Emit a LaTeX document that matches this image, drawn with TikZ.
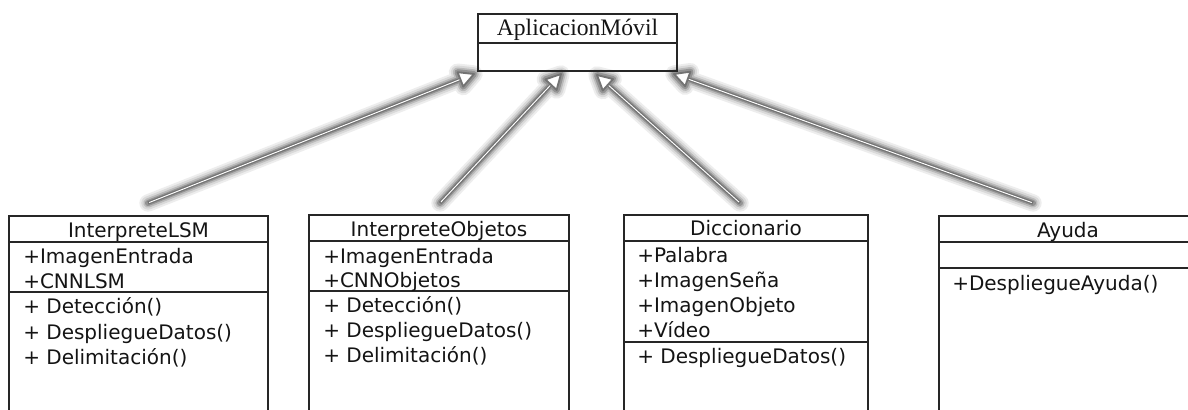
\documentclass[tikz,border=0pt]{standalone}
\usepackage{fontspec}
\newfontfamily\umlsans{DejaVu Sans}
\newfontfamily\umlserif{Liberation Serif}
\usetikzlibrary{arrows.meta,calc}
\newcommand\inherit[2]{%
  \coordinate (tb) at ($(#2)!11pt!(#1)$);
  \coordinate (tl) at ($(tb)!5.8pt!90:(#2)$);
  \coordinate (tr) at ($(tb)!5.8pt!-90:(#2)$);
  \draw[line width=13pt, black!7, line cap=round, line join=round] (#1) -- (tb) (#2) -- (tl) -- (tr) -- cycle;
  \draw[line width=10pt, black!15, line cap=round, line join=round] (#1) -- (tb) (#2) -- (tl) -- (tr) -- cycle;
  \draw[line width=7pt, black!27, line cap=round, line join=round] (#1) -- (tb) (#2) -- (tl) -- (tr) -- cycle;
  \draw[line width=4.5pt, black!42, line cap=round, line join=round] (#1) -- (tb) (#2) -- (tl) -- (tr) -- cycle;
  \draw[line width=2.6pt, black!55] (#1) -- (tb);
  \draw[line width=0.7pt, white, shorten <=1pt] (#1) -- (tb);
  \draw[line width=1.4pt, black!55, fill=white, line join=round]
    (#2) -- (tl) -- (tr) -- cycle;
}
\begin{document}
\begin{tikzpicture}[x=0.75pt,y=-0.75pt,
  boxline/.style={draw=black!85, line width=1.1pt},
  hdr/.style={font=\umlsans\fontsize{15}{17}\selectfont, text=black!92, anchor=base, inner sep=0pt},
  item/.style={font=\umlsans\fontsize{15}{17}\selectfont, text=black!92, anchor=base west, inner sep=0pt},
  ttl/.style={font=\umlserif\fontsize{17.7}{20}\selectfont, text=black!92, anchor=base, inner sep=0pt}]
\useasboundingbox (0,0) rectangle (1188,410);
\clip (0,0) rectangle (1188,410);
\fill[white] (0,0) rectangle (1188,410);

% connector end points
\coordinate (s1) at (148,203);
\coordinate (t1) at (474,74);
\coordinate (s2) at (440,203);
\coordinate (t2) at (561,74);
\coordinate (s3) at (740,203);
\coordinate (t3) at (597,75);
\coordinate (s4) at (1033,203);
\coordinate (t4) at (674,74);

\inherit{s1}{t1}
\inherit{s2}{t2}
\inherit{s3}{t3}
\inherit{s4}{t4}

% AplicacionMovil
\draw[boxline] (478,14) rectangle (677,71);
\draw[boxline] (478,43) -- (677,43);
\node[ttl] (app) at (577.5,36) {AplicacionMóvil};

% InterpreteLSM
\draw[boxline] (9,412) -- (9,216) -- (268,216) -- (268,412);
\draw[boxline] (9,242) -- (268,242);
\draw[boxline] (9,292) -- (268,292);
\node[hdr] (lsm) at (138.5,237) {InterpreteLSM};
\node[item] (lsma1) at (23,263) {+ImagenEntrada};
\node[item] (lsma2) at (23,288) {+CNNLSM};
\node[item] (lsmm1) at (23,313) {+ Detección()};
\node[item] (lsmm2) at (23,339) {+ DespliegueDatos()};
\node[item] (lsmm3) at (23,364) {+ Delimitación()};

% InterpreteObjetos
\draw[boxline] (309,412) -- (309,215) -- (569,215) -- (569,412);
\draw[boxline] (309,241) -- (569,241);
\draw[boxline] (309,291) -- (569,291);
\node[hdr] (obj) at (439,236) {InterpreteObjetos};
\node[item] (obja1) at (323,263) {+ImagenEntrada};
\node[item] (obja2) at (323,287) {+CNNObjetos};
\node[item] (objm1) at (323,312) {+ Detección()};
\node[item] (objm2) at (323,337) {+ DespliegueDatos()};
\node[item] (objm3) at (323,362) {+ Delimitación()};

% Diccionario
\draw[boxline] (624,412) -- (624,215) -- (868,215) -- (868,412);
\draw[boxline] (624,241) -- (868,241);
\draw[boxline] (624,342) -- (868,342);
\node[hdr] (dic) at (746,235) {Diccionario};
\node[item] (dica1) at (637,262) {+Palabra};
\node[item] (dica2) at (637,287) {+ImagenSeña};
\node[item] (dica3) at (637,312) {+ImagenObjeto};
\node[item] (dica4) at (637,337) {+Vídeo};
\node[item] (dicm1) at (637,363) {+ DespliegueDatos()};

% Ayuda
\draw[boxline] (939,412) -- (939,216) -- (1197,216) -- (1197,412);
\draw[boxline] (939,242) -- (1197,242);
\draw[boxline] (939,268) -- (1197,268);
\node[hdr] (ayu) at (1068,237) {Ayuda};
\node[item] (ayum1) at (952,290) {+DespliegueAyuda()};
\end{tikzpicture}
\end{document}
